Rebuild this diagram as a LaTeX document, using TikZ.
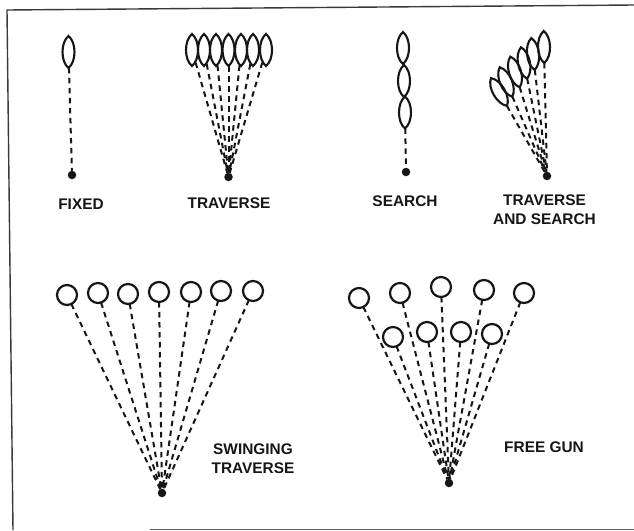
\documentclass[tikz,border=0pt]{standalone}
\usepackage{fontspec}
\setmainfont{Liberation Sans}
\usetikzlibrary{shapes.geometric,calc}
\newdimen\lensA
\newdimen\lensB
\newdimen\lensC
\newdimen\lensD
\makeatletter
\pgfdeclareshape{lens}{
  \inheritsavedanchors[from=ellipse]
  \inheritanchor[from=ellipse]{center}
  \inheritanchor[from=ellipse]{north}
  \inheritanchor[from=ellipse]{south}
  \inheritanchorborder[from=ellipse]
  \backgroundpath{
    \pgfextractx{\lensA}{\radius}
    \pgfextracty{\lensB}{\radius}
    \lensC=1.333\lensA
    \lensD=0.6\lensB
    \pgfpathmoveto{\pgfpoint{0pt}{\lensB}}
    \pgfpathcurveto{\pgfpoint{\lensC}{\lensD}}{\pgfpoint{\lensC}{-\lensD}}{\pgfpoint{0pt}{-\lensB}}
    \pgfpathcurveto{\pgfpoint{-\lensC}{-\lensD}}{\pgfpoint{-\lensC}{\lensD}}{\pgfpoint{0pt}{\lensB}}
    \pgfpathclose
  }
}
\makeatother
\definecolor{ink}{HTML}{161616}
\tikzset{
  x=1pt,y=-1pt,
  burst/.style={lens,draw=ink,line width=2.1pt,inner sep=0pt,outer sep=0pt,minimum width=12pt,minimum height=32pt},
  ring/.style={circle,draw=ink,line width=2.2pt,inner sep=0pt,outer sep=0pt,minimum size=20pt},
  gun/.style={circle,fill=ink,inner sep=0pt,outer sep=0pt,minimum size=8.5pt},
  fire/.style={draw=ink,line width=2pt,dash pattern=on 5.5pt off 4.5pt},
  caption/.style={font=\bfseries\fontsize{15.4}{18.5}\selectfont,text=ink,align=center,inner sep=0pt}
}
\begin{document}
\begin{tikzpicture}
\useasboundingbox (0,0) rectangle (634,530);
\fill[white] (0,0) rectangle (634,530);
% frame
\coordinate (tl) at (7,10);
\coordinate (tr) at (634,5);
\coordinate (bl) at (13,530);
\coordinate (br) at (634,529);
\draw[draw=ink!85,line width=1.4pt] (bl) -- (tl) -- (tr);
\draw[draw=ink!70,line width=1pt] (150,529) -- (br);
\draw[draw=ink!25,line width=.7pt] (tr) -- (br);
% fixed
\node[gun] (fg) at (72,175) {};
\node[burst] (f1) at (68.5,52) {};
\draw[fire] (f1) -- (fg);
\node[caption] (lf) at (81,204) {FIXED};
% traverse
\node[gun] (tg) at (228.5,177) {};
\foreach \n/\x in {1/192,2/204,3/216,4/228.5,5/241,6/253,7/266}{
  \node[burst] (t\n) at (\x,50) {};
  \draw[fire] (t\n) -- (tg);
}
\node[caption] (lt) at (229,203.5) {TRAVERSE};
% search
\node[gun] (sg) at (406,172) {};
\node[burst] (s1) at (403,48) {};
\node[burst] (s2) at (404,81) {};
\node[burst] (s3) at (405,112.5) {};
\draw[fire] (s3) -- (sg);
\node[caption] (ls) at (405,201) {SEARCH};
% traverse and search
\node[gun] (ag) at (547,176) {};
\foreach \n/\x/\y/\r in {1/544/47/1,2/533/54/6,3/524/63/11,4/515/72/17,5/506/82/23,6/499/92/30}{
  \node[burst,rotate=\r] (a\n) at (\x,\y) {};
  \draw[fire] (a\n) -- (ag);
}
\node[caption] (la) at (544.5,209.5) {TRAVERSE\\AND SEARCH};
% swinging traverse
\node[gun] (wg) at (162,493) {};
\foreach \n/\x/\y in {1/67/295,2/98/293,3/128/294,4/159/292,5/191/292,6/221/291,7/253/291}{
  \node[ring] (w\n) at (\x,\y) {};
  \draw[fire] (w\n) -- (wg);
}
\node[caption] (lw) at (253,458.5) {SWINGING\\TRAVERSE};
% free gun
\node[gun] (gg) at (449,483) {};
\foreach \n/\x/\y in {1/359/298,2/400/293,3/441/287,4/484/290,5/524/293,6/393/337,7/427/332,8/461/332,9/492/334}{
  \node[ring] (g\n) at (\x,\y) {};
  \draw[fire] (g\n) -- (gg);
}
\node[caption] (lg) at (544,447) {FREE GUN};
\end{tikzpicture}
\end{document}
